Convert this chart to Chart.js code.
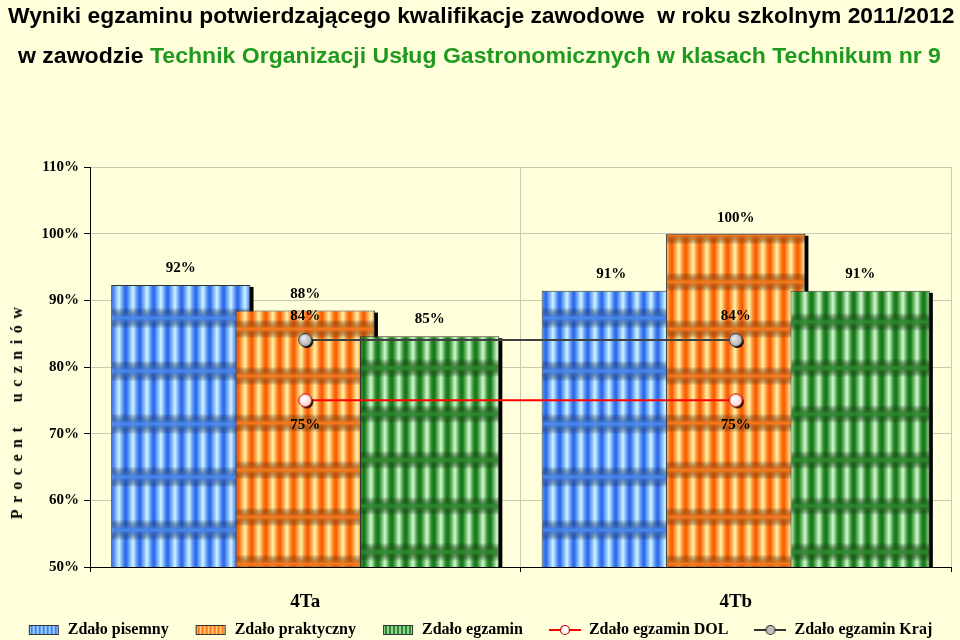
<!DOCTYPE html>
<html>
<head>
<meta charset="utf-8">
<script src="https://cdn.jsdelivr.net/npm/chart.js@4.4.1/dist/chart.umd.min.js"></script>
<style>
  html, body { margin: 0; padding: 0; background: #ffffdc; }
  #wrap { position: relative; width: 960px; height: 640px; overflow: hidden; }
  #chart { position: absolute; left: 0; top: 0; }
  .title { position: absolute; white-space: nowrap; font-family: "Liberation Sans", Arial, sans-serif; font-weight: bold; font-size: 22px; color: #000; transform-origin: 0 0; }
  #t1 { left: 8px; top: 3px; transform: scaleX(1.038); }
  #t2 { left: 18px; top: 43px; transform: scaleX(1.048); }
  #t2 .g { color: #1f9a1f; }
  #ytitle { position: absolute; left: 17px; top: 410px; transform: translate(-50%, -50%) rotate(-90deg);
    font-family: "Liberation Serif", "Times New Roman", serif; font-weight: bold; font-size: 16px;
    letter-spacing: 6.5px; word-spacing: 8px; white-space: nowrap; color: #000; }
</style>
</head>
<body>
<div id="wrap">
  <canvas id="chart" width="960" height="640"></canvas>
  <div class="title" id="t1">Wyniki egzaminu potwierdzającego kwalifikacje zawodowe&nbsp; w roku szkolnym 2011/2012</div>
  <div class="title" id="t2">w zawodzie <span class="g">Technik Organizacji Usług Gastronomicznych w klasach Technikum nr 9</span></div>
  <div id="ytitle">Procent uczniów</div>
</div>
<script>
// dane
const classes = ["4Ta", "4Tb"];
const zdaloPisemny = [92.31, 91.43];
const zdaloPraktyczny = [88.46, 100];
const zdaloEgzamin = [84.62, 91.43];
const zdaloDol = [75, 75];
const zdaloKraj = [84.05, 84.05];
const seriesNames = ["Zdało pisemny", "Zdało praktyczny", "Zdało egzamin", "Zdało egzamin DOL", "Zdało egzamin Kraj"];
const yMin = 50, yMax = 110, yStep = 10;

const SERIF = '"Liberation Serif", "Times New Roman", serif';

// wzór słupków (paski pionowe + ciemniejsze pasy poziome)
function makeTile(dark, mid, light, colW, period) {
  const c = document.createElement("canvas");
  c.width = colW;
  c.height = period;
  const g = c.getContext("2d");
  const h = g.createLinearGradient(0, 0, colW, 0);
  h.addColorStop(0, dark);
  h.addColorStop(0.12, mid);
  h.addColorStop(0.5, light);
  h.addColorStop(0.82, mid);
  h.addColorStop(1, dark);
  g.fillStyle = h;
  g.fillRect(0, 0, colW, period);
  const v = g.createLinearGradient(0, 0, 0, period);
  v.addColorStop(0, mid);
  v.addColorStop(0.2, "rgba(0,0,0,0)");
  v.addColorStop(0.8, "rgba(0,0,0,0)");
  v.addColorStop(1, mid);
  g.fillStyle = v;
  g.fillRect(0, 0, colW, period);
  return c;
}
function makePattern(dark, mid, light, colW, period) {
  const ctx = document.getElementById("chart").getContext("2d");
  return ctx.createPattern(makeTile(dark, mid, light, colW, period), "repeat");
}

const blueCols = ["#2a62e0", "#4a8af8", "#d0f4ff"];
const orangeCols = ["#f45a00", "#ff7c1c", "#fff4a8"];
const greenCols = ["#167016", "#2f8f2f", "#d2fad0"];

const blueFill = makePattern(...blueCols, 14, 53);
const orangeFill = makePattern(...orangeCols, 14, 47);
const greenFill = makePattern(...greenCols, 14, 46);

// ikonki legendy
function barIcon(cols) {
  const c = document.createElement("canvas");
  c.width = 32; c.height = 12;
  const g = c.getContext("2d");
  g.fillStyle = g.createPattern(makeTile(cols[0], cols[1], cols[2], 4, 12), "repeat");
  g.fillRect(1, 1, 30, 10);
  g.strokeStyle = "#333";
  g.lineWidth = 1;
  g.strokeRect(1.5, 1.5, 29, 9);
  return c;
}
function lineIcon(color, fill, border) {
  const c = document.createElement("canvas");
  c.width = 32; c.height = 12;
  const g = c.getContext("2d");
  g.strokeStyle = color;
  g.lineWidth = 2;
  g.beginPath(); g.moveTo(0, 6); g.lineTo(32, 6); g.stroke();
  g.beginPath(); g.arc(16, 6, 4.5, 0, Math.PI * 2);
  g.fillStyle = fill; g.fill();
  g.lineWidth = 1.2; g.strokeStyle = border; g.stroke();
  return c;
}
function pointImg(fillIn, fillOut, border) {
  const c = document.createElement("canvas");
  c.width = 20; c.height = 20;
  const g = c.getContext("2d");
  g.fillStyle = "#000";
  g.beginPath(); g.arc(11.5, 11.5, 6.5, 0, Math.PI * 2); g.fill();
  const r = g.createRadialGradient(8, 8, 1, 10, 10, 7);
  r.addColorStop(0, fillIn);
  r.addColorStop(1, fillOut);
  g.fillStyle = r;
  g.beginPath(); g.arc(10, 10, 6.5, 0, Math.PI * 2); g.fill();
  g.strokeStyle = border; g.lineWidth = 1; g.stroke();
  return c;
}

const legendIcons = [
  barIcon(blueCols),
  barIcon(orangeCols),
  barIcon(greenCols),
  lineIcon("#ff0000", "#fff", "#c00000"),
  lineIcon("#333333", "#c0c0c0", "#333"),
];

// cienie słupków + rysowanie w kolejności serii
const barShadowPlugin = {
  id: "barShadow",
  afterLayout(chart) {
    // etykiety osi X wychodzą niżej niż pasek skali
    chart.scales.x.bottom = chart.scales.x.top + 50;
  },
  beforeDatasetsDraw(chart) {
    const ctx = chart.ctx;
    const area = chart.chartArea;
    ctx.save();
    ctx.beginPath();
    ctx.rect(area.left, 0, chart.width - area.left, area.bottom);
    ctx.clip();
    chart.data.datasets.forEach((ds, i) => {
      const meta = chart.getDatasetMeta(i);
      if (meta.type !== "bar") return;
      meta.data.forEach((el) => {
        const p = el.getProps(["x", "y", "base", "width"], true);
        ctx.fillStyle = "#000";
        ctx.fillRect(p.x - p.width / 2 + 3, p.y + 2, p.width, p.base - p.y);
      });
      meta.controller.draw();
    });
    ctx.restore();
  },
  beforeDatasetDraw(chart, args) {
    if (args.meta.type === "bar") return false;
  },
};

// etykiety wartości
const valueLabelsPlugin = {
  id: "valueLabels",
  afterDatasetsDraw(chart) {
    const ctx = chart.ctx;
    ctx.save();
    ctx.font = "bold 15px " + SERIF;
    ctx.fillStyle = "#000";
    ctx.textAlign = "center";
    ctx.textBaseline = "middle";
    chart.data.datasets.forEach((ds, i) => {
      const meta = chart.getDatasetMeta(i);
      meta.data.forEach((el, j) => {
        const p = el.getProps(["x", "y"], true);
        ctx.fillText(Math.round(ds.data[j]) + "%", p.x, p.y + ds.labelOffset);
      });
    });
    ctx.restore();
  },
};

new Chart(document.getElementById("chart"), {
  type: "bar",
  data: {
    labels: classes,
    datasets: [
      { label: seriesNames[0], data: zdaloPisemny, backgroundColor: blueFill, borderColor: "#333", borderWidth: 1, labelOffset: -17 },
      { label: seriesNames[1], data: zdaloPraktyczny, backgroundColor: orangeFill, borderColor: "#333", borderWidth: 1, labelOffset: -16 },
      { label: seriesNames[2], data: zdaloEgzamin, backgroundColor: greenFill, borderColor: "#333", borderWidth: 1, labelOffset: -17 },
      { type: "line", label: seriesNames[3], data: zdaloDol, borderColor: "#ff0000", borderWidth: 2,
        pointStyle: pointImg("#ffffff", "#ffd0d0", "#c00000"), pointRadius: 7, labelOffset: 25, order: -1 },
      { type: "line", label: seriesNames[4], data: zdaloKraj, borderColor: "#404040", borderWidth: 2,
        pointStyle: pointImg("#e8e8e8", "#a8a8a8", "#333"), pointRadius: 7, labelOffset: -24, order: -1 },
    ],
  },
  options: {
    responsive: false,
    animation: false,
    devicePixelRatio: 1,
    categoryPercentage: 0.867,
    barPercentage: 1.12,
    layout: { padding: { top: 167, left: 0, right: 0, bottom: -8 } },
    scales: {
      x: {
        offset: true,
        afterFit: (s) => { s.height = 29; },
        grid: { offset: true, color: "#c9c9b4", tickColor: "#000", tickLength: 5 },
        border: { color: "#000" },
        ticks: { color: "#000", font: { family: SERIF, weight: "bold", size: 19 }, padding: 19 },
      },
      y: {
        min: yMin,
        max: yMax,
        afterFit: (s) => { s.width = 90; },
        grid: { color: "#c9c9b4", tickColor: "#000", tickLength: 6 },
        border: { color: "#000" },
        ticks: { stepSize: yStep, color: "#000", padding: 5, font: { family: SERIF, weight: "bold", size: 15 },
          callback: (v) => v + "%" },
      },
    },
    plugins: {
      tooltip: { enabled: false },
      legend: {
        position: "bottom",
        labels: {
          usePointStyle: true,
          pointStyleWidth: 32,
          padding: 26,
          color: "#000",
          font: { family: SERIF, weight: "bold", size: 16 },
          generateLabels: (chart) => chart.data.datasets.map((ds, i) => ({
            text: ds.label, pointStyle: legendIcons[i], datasetIndex: i, hidden: false, lineWidth: 0,
            fillStyle: "transparent", strokeStyle: "transparent", fontColor: "#000",
          })),
        },
      },
    },
  },
  plugins: [barShadowPlugin, valueLabelsPlugin],
});
</script>
</body>
</html>
